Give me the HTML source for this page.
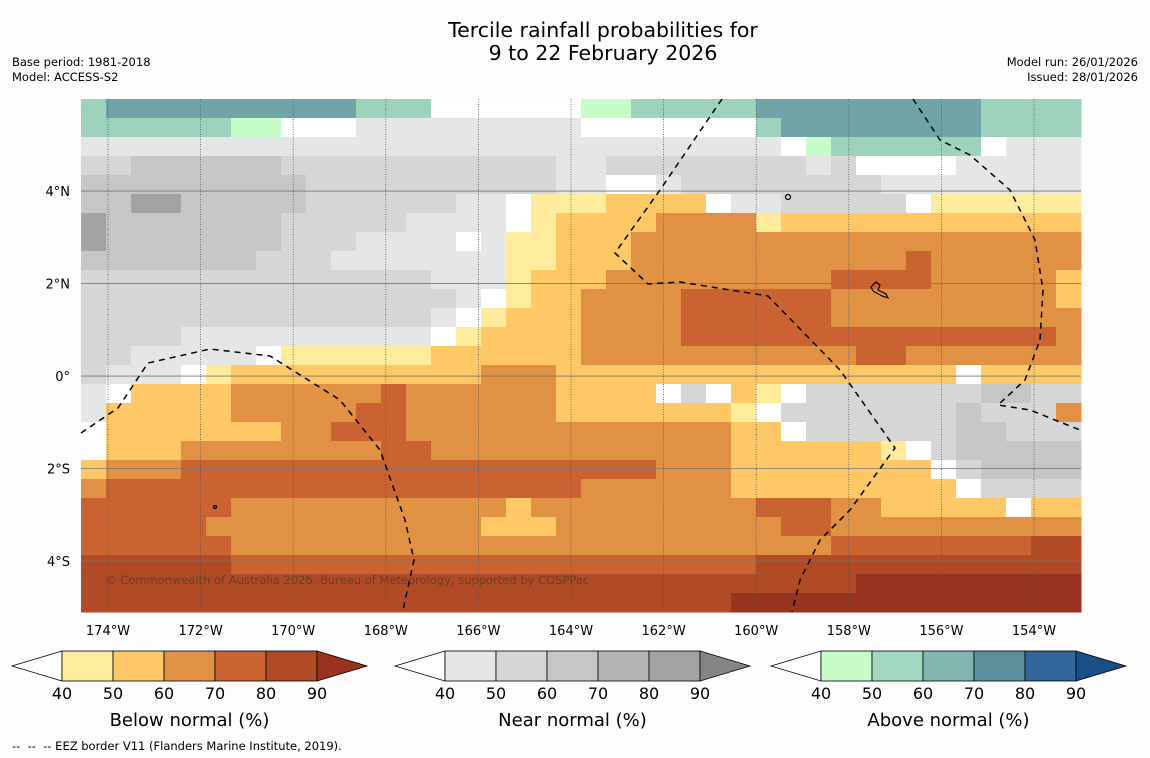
<!DOCTYPE html>
<html>
<head>
<meta charset="utf-8">
<style>
  html,body{margin:0;padding:0;background:#fdfdfd;}
  body{width:1150px;height:758px;position:relative;overflow:hidden;font-family:"DejaVu Sans","Liberation Sans",sans-serif;color:#000;}
  .t{position:absolute;white-space:nowrap;}
</style>
</head>
<body>
<div class="t" style="left:0;width:1206px;top:19px;text-align:center;font-size:20.5px;line-height:23px;">Tercile rainfall probabilities for<br>9 to 22 February 2026</div>
<div class="t" style="left:12px;top:55px;font-size:11.5px;line-height:15px;">Base period: 1981-2018<br>Model: ACCESS-S2</div>
<div class="t" style="right:12px;top:55px;font-size:11.5px;line-height:15px;text-align:right;">Model run: 26/01/2026<br>Issued: 28/01/2026</div>
<div class="t" style="left:12px;top:739px;font-size:11.5px;">--&nbsp; --&nbsp; -- EEZ border V11 (Flanders Marine Institute, 2019).</div>

<svg id="chart" width="1150" height="758" style="position:absolute;left:0;top:0;" xmlns="http://www.w3.org/2000/svg">
  <g id="cells" shape-rendering="crispEdges"></g>
  <g id="grid"></g>
  <g id="eez" fill="none" stroke="#000" stroke-width="1.5" stroke-dasharray="6,5">
    <path d="M81,433 L118,408 L148,363 L210,349 L270,356 L340,400 L380,450 L405,520 L414,560 L403,610"/>
    <path d="M722,99 L660,190 L615,253 L648,284 L680,282 L768,296 L840,370 L895,448 L850,510 L820,540 L800,580 L792,612"/>
    <path d="M913,99 L940,140 L970,155 L1010,190 L1035,240 L1043,290 L1040,340 L1025,380 L998,405 L1030,410 L1080,430"/>
  </g>
  <g fill="none" stroke="#000" stroke-width="1.2">
    <path d="M871,287 L876,282 L880,285 L878,290 L886,294 L888,298 L882,296 L873,291 Z"/>
    <circle cx="788" cy="197" r="2.5"/>
    <circle cx="215" cy="507" r="1.5"/>
  </g>
  <text x="105" y="584" font-size="11.5" fill="#5b3a28" fill-opacity="0.8" font-family="DejaVu Sans, Liberation Sans, sans-serif">© Commonwealth of Australia 2026, Bureau of Meteorology, supported by COSPPac</text>
  <g id="axes" font-family="DejaVu Sans, Liberation Sans, sans-serif" font-size="13"></g>
  <g id="bars" font-family="DejaVu Sans, Liberation Sans, sans-serif"></g>
</svg>

<script>
// ---- data ----
const lonTicks = [-174,-172,-170,-168,-166,-164,-162,-160,-158,-156,-154];
const latTicks = [4,2,0,-2,-4];
const legendTicks = [40,50,60,70,80,90];
const belowColors = ['#feeb9c','#fdc865','#e09144','#cb6232','#b04a27','#98331f'];
const nearColors = ['#e6e6e6','#d6d6d6','#c6c6c6','#b5b5b5','#a3a3a3','#858585'];
const aboveColors = ['#c6fdc9','#a0d8bf','#82b5b0','#5c92a0','#33669a','#1a4f85'];
// category grid (rows north→south, 40 columns west→east)
const gridRows = [
"hiiiiiiiiiihhhwwwwwwgghhhhhiiiiiiiiihhhh",
"hhhhhhggwww111111111wwwwwwwhiiiiiiiihhhh",
"1111111111111111111111111111wghhhhhhw111",
"2233333322222222222112222222212wwww111111".slice(0,40),
"333333333222222222211ww122222222111111111".slice(0,40),
"3344333332222221" + "1waaabbbbw1122222waaaaaa",
"43333333222221111wabbbbccccabbbbbbbbbbbb",
"43333333222" + "1111w1aabbbcccccccccccccccccc",
"3333333222111111" + "1aabbbcccccccccccdcccccc",
"22222222222222111abbbcccccccccddddcccccb",
"222222222222222" + "1wabbccccddddddcccccccccb",
"22222222222222" + "1wabbbccccddddddcccccccccc",
"22221111111111wabbbbccccdddddddddddddddc",
"2211111waaaaaabbbbbbcccccccccccddccccccc",
"2111wabbbbbbbbbbcccbbbbbbbbbbbbbbbbwbbbb",
"1wbbbbccccccdccccccbbbbw2wbaw222222233" + "22",
"1bbbbbcccccddccccccbbbbbbbaw2222222" + "3222",
"wbbbbbbbccdddcccccccccccccbbw2222223322" + "2",
"wbbbccccccccddccccccccccccbbbbbbaw233333",
"bcccdddddddddddddddddddcccbbbbbbbbw23333",
"cdddddddddddddddddddccccccbbbbbbbbbw2222",
"ddddddcccccccccccbcccccccccdddccbbbbbwbb",
"dddddcccccccccccbbbcccccccccddcccccccccc",
"ddddddccccccccccccccccccccccccdddddddd" + "ee",
"eeeeeedddddddddddddddddddddeeeeeeeeeeeee".slice(0,40),
"eeeeeeeeeeeeeeeeeeeeeeeeeeeeeeefffffffff",
"eeeeeeeeeeeeeeeeeeeeeeeeeefffffffffffffff".slice(0,40)
];
const codeColors = {a:'#feeb9c',b:'#fdc865',c:'#e09144',d:'#cb6232',e:'#b04a27',f:'#98331f',
  w:'#ffffff','1':'#e6e6e6','2':'#d6d6d6','3':'#c6c6c6','4':'#a3a3a3',
  g:'#c6fdc9',h:'#9dd3bc',i:'#6fa5a8'};

// ---- axes ----
const MAP = {x0:81, x1:1081, y0:99, y1:612};
const lonMin = -174.583, lonMax = -152.985, latMax = 5.99, latMin = -5.1;
function xOf(lon){ return MAP.x0 + (lon - lonMin) / (lonMax - lonMin) * (MAP.x1 - MAP.x0); }
function yOf(lat){ return MAP.y0 + (latMax - lat) / (latMax - latMin) * (MAP.y1 - MAP.y0); }
const NS = 'http://www.w3.org/2000/svg';
function mk(tag, attrs, parent){ const e=document.createElementNS(NS,tag); for(const k in attrs) e.setAttribute(k,attrs[k]); parent.appendChild(e); return e; }

// cells
const cellsG = document.getElementById('cells');
const nCols = 40, nRows = gridRows.length;
const cw = (MAP.x1-MAP.x0)/nCols, ch = (MAP.y1-MAP.y0)/nRows;
gridRows.forEach((row, r) => {
  for (let c = 0; c < nCols; c++) {
    const code = row[c] || 'c';
    const rect = mk('rect', {x:(MAP.x0+c*cw).toFixed(2), y:(MAP.y0+r*ch).toFixed(2), width:(cw+0.5).toFixed(2), height:(ch+0.5).toFixed(2), fill:codeColors[code]}, cellsG);
    
    
  }
});

// grid
const gridG = document.getElementById('grid');
lonTicks.forEach(lon => {
  const l = mk('line', {x1:xOf(lon), x2:xOf(lon), y1:MAP.y0, y2:MAP.y1, stroke:'#555', 'stroke-width':0.8, 'stroke-dasharray':'1,1.5'}, gridG);
  
  
});
latTicks.forEach(lat => {
  const l = mk('line', {x1:MAP.x0, x2:MAP.x1, y1:yOf(lat), y2:yOf(lat), stroke:'#777', 'stroke-width':0.8}, gridG);
  
  
});

// axis labels
const axesG = document.getElementById('axes');
lonTicks.forEach(lon => {
  const t = mk('text', {x:xOf(lon), y:635, 'text-anchor':'middle'}, axesG);
  t.textContent = Math.abs(lon) + '°W';
  
  
});
latTicks.forEach(lat => {
  const t = mk('text', {x:70, y:yOf(lat)+5, 'text-anchor':'end'}, axesG);
  t.textContent = lat === 0 ? '0°' : Math.abs(lat) + '°' + (lat > 0 ? 'N' : 'S');
  
  
});

// colour bars
const barsG = document.getElementById('bars');
function colorbar(x0, colors, title, name){
  const g = mk('g', {}, barsG);
  
  
  const top = 651, bot = 681, mid = 666, tri = 50, bw = 51;
  mk('polygon', {points:`${x0},${mid} ${x0+tri},${top} ${x0+tri},${bot}`, fill:'#ffffff', stroke:'#000', 'stroke-width':0.8}, g);
  for (let i = 0; i < 5; i++) {
    mk('rect', {x:x0+tri+i*bw, y:top, width:bw, height:bot-top, fill:colors[i], stroke:'#000', 'stroke-width':0.8}, g);
  }
  const xe = x0+tri+5*bw;
  mk('polygon', {points:`${xe},${top} ${xe+tri},${mid} ${xe},${bot}`, fill:colors[5], stroke:'#000', 'stroke-width':0.8}, g);
  legendTicks.forEach((v, i) => {
    const t = mk('text', {x:x0+tri+i*bw, y:699, 'text-anchor':'middle', 'font-size':16}, g);
    t.textContent = v;
    
    
  });
  const tt = mk('text', {x:x0+tri+2.5*bw, y:726, 'text-anchor':'middle', 'font-size':18}, g);
  tt.textContent = title;
  
  
}
colorbar(12, belowColors, 'Below normal (%)', 'below-normal-colorbar');
colorbar(395, nearColors, 'Near normal (%)', 'near-normal-colorbar');
colorbar(771, aboveColors, 'Above normal (%)', 'above-normal-colorbar');
</script>
</body>
</html>
